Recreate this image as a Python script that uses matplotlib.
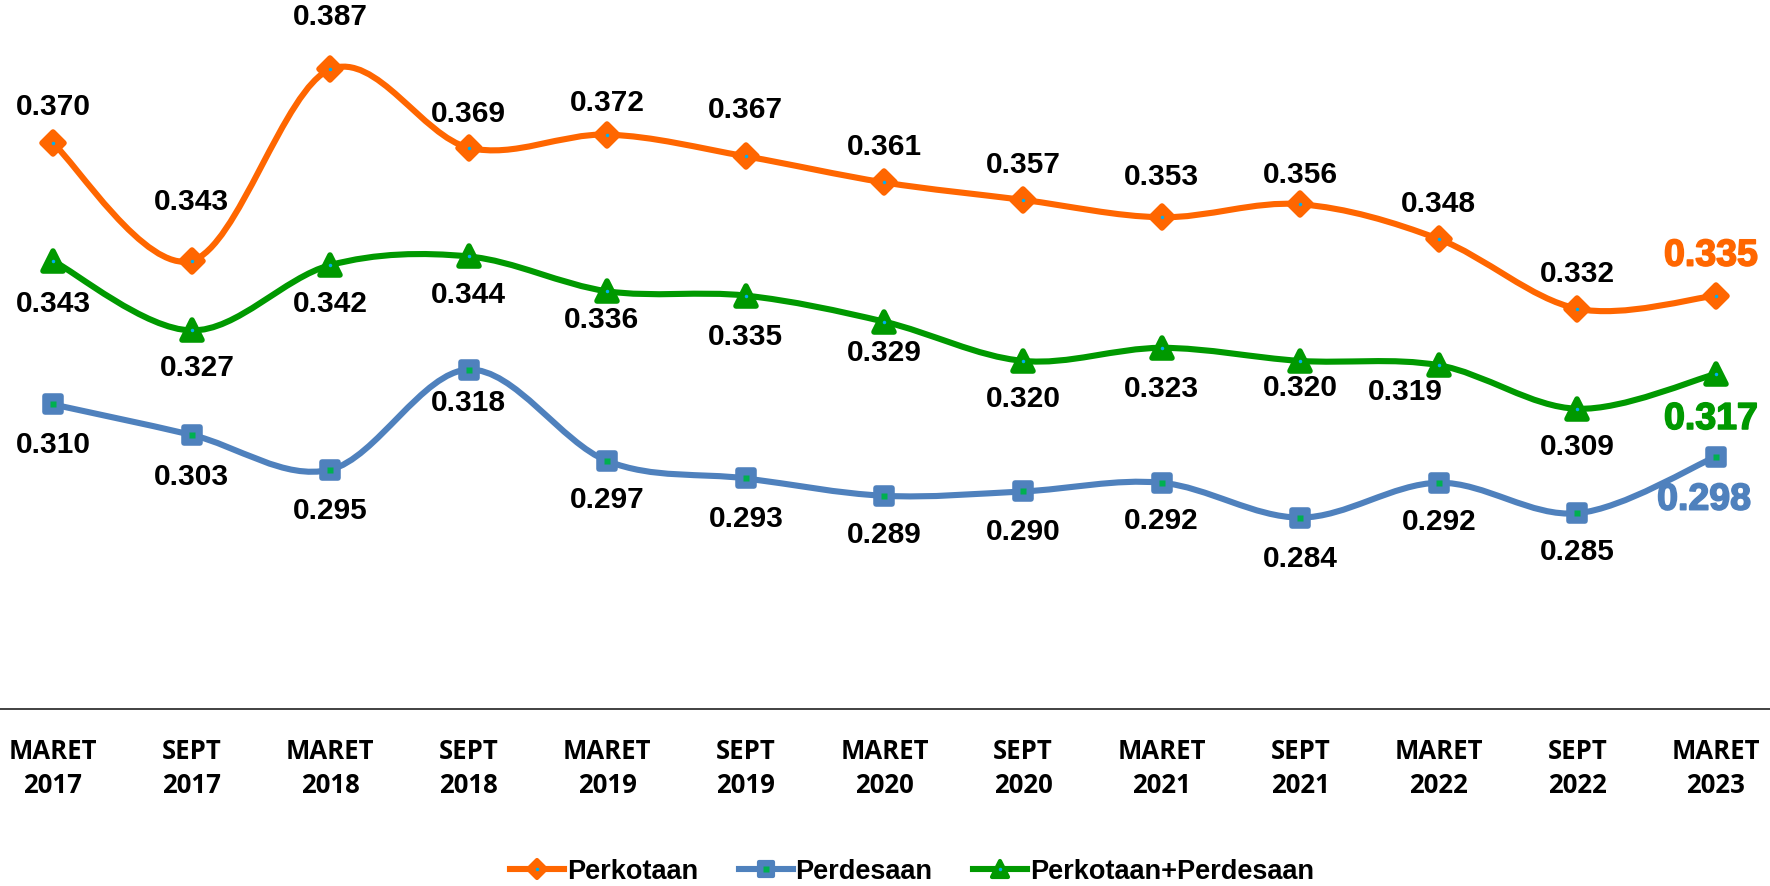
import matplotlib
matplotlib.use("Agg")
import matplotlib.pyplot as plt
from matplotlib.path import Path
from matplotlib.patches import PathPatch
from matplotlib.lines import Line2D
from matplotlib.markers import MarkerStyle
from matplotlib.legend_handler import HandlerTuple
import matplotlib.patheffects as pe
import matplotlib.transforms as mtransforms

# ── data ────────────────────────────────────────────────────────────────
periods = ["MARET\n2017", "SEPT\n2017", "MARET\n2018", "SEPT\n2018",
           "MARET\n2019", "SEPT\n2019", "MARET\n2020", "SEPT\n2020",
           "MARET\n2021", "SEPT\n2021", "MARET\n2022", "SEPT\n2022",
           "MARET\n2023"]
perkotaan = [0.370, 0.343, 0.387, 0.369, 0.372, 0.367, 0.361, 0.357,
             0.353, 0.356, 0.348, 0.332, 0.335]
perdesaan = [0.310, 0.303, 0.295, 0.318, 0.297, 0.293, 0.289, 0.290,
             0.292, 0.284, 0.292, 0.285, 0.298]
gabungan = [0.343, 0.327, 0.342, 0.344, 0.336, 0.335, 0.329, 0.320,
            0.323, 0.320, 0.319, 0.309, 0.317]

# ── style ───────────────────────────────────────────────────────────────
C_ORANGE = "#FF6600"
C_BLUE = "#4F81BD"
C_GREEN = "#009900"
C_DOT_CYAN = "#00B0F0"
C_DOT_GREEN = "#00B050"
LABEL_FONT = "Liberation Sans"
LW = 4.4

# label offsets in pixels (dx, dy; dy positive = downward)
OFF_ORANGE = [(0, -37), (0, -60), (0, -53), (0, -35), (0, -33), (0, -47), (0, -36),
              (0, -36), (0, -41), (0, -30), (0, -36), (0, -36), (-5, -40)]
OFF_GREEN = [(0, 42), (6, 37), (0, 38), (0, 38), (-6, 28), (0, 40), (0, 30),
             (0, 37), (0, 40), (0, 26), (-33, 26), (0, 37), (-5, 45)]
OFF_BLUE = [(0, 40), (0, 41), (0, 40), (0, 32), (0, 38), (0, 40), (0, 38),
            (0, 40), (0, 37), (0, 40), (0, 38), (0, 38), (-12, 43)]


def smooth_path(xs, ys):
    """Excel 風スムージング（Catmull-Rom → Bezier）"""
    pts = list(zip(xs, ys))
    n = len(pts)
    verts = [pts[0]]
    codes = [Path.MOVETO]
    for i in range(n - 1):
        p0 = pts[i - 1] if i > 0 else pts[i]
        p1 = pts[i]
        p2 = pts[i + 1]
        p3 = pts[i + 2] if i + 2 < n else pts[i + 1]
        c1 = (p1[0] + (p2[0] - p0[0]) / 6, p1[1] + (p2[1] - p0[1]) / 6)
        c2 = (p2[0] - (p3[0] - p1[0]) / 6, p2[1] - (p3[1] - p1[1]) / 6)
        verts += [c1, c2, p2]
        codes += [Path.CURVE4] * 3
    return Path(verts, codes)


fig = plt.figure(figsize=(17.7, 8.87), dpi=100)
ax = fig.add_axes([0, 0.1995, 1, 0.785])
ax.set_xlim(-0.382, 12.39)
ax.set_ylim(0.24, 0.40)

xs = list(range(len(periods)))

series = [
    (perkotaan, C_ORANGE, "D", 11, C_DOT_CYAN, 2.5, OFF_ORANGE, "Perkotaan"),
    (perdesaan, C_BLUE, "s", 12, C_DOT_GREEN, 5, OFF_BLUE, "Perdesaan"),
    (gabungan, C_GREEN, "^", 14, C_DOT_CYAN, 2.5, OFF_GREEN, "Perkotaan+Perdesaan"),
]

handles = []
for vals, color, mk, ms, dot_c, dot_ms, offs, name in series:
    ax.add_patch(PathPatch(smooth_path(xs, vals), facecolor="none",
                           edgecolor=color, lw=LW, capstyle="round",
                           joinstyle="round", zorder=3))
    mstyle = MarkerStyle(mk, joinstyle="round")
    ax.plot(xs, vals, ls="none", marker=mstyle, ms=ms, mfc=color, mec=color,
            mew=4, zorder=4)
    ax.plot(xs, vals, ls="none", marker="s" if mk == "s" else "o",
            ms=dot_ms, mfc=dot_c, mec="none", zorder=5)

    for i, (x, v) in enumerate(zip(xs, vals)):
        dx, dy = offs[i]
        tr = mtransforms.offset_copy(ax.transData, fig=fig, x=dx, y=-dy,
                                     units="dots")
        last = i == len(vals) - 1
        if last:
            ax.text(x, v, f"{v:.3f}", transform=tr, ha="center", va="center",
                    fontsize=27, fontweight="bold", family=LABEL_FONT,
                    color=color, zorder=6,
                    path_effects=[pe.withStroke(linewidth=1.2, foreground=color)])
        else:
            ax.text(x, v, f"{v:.3f}", transform=tr, ha="center", va="center",
                    fontsize=21.5, fontweight="bold", family=LABEL_FONT,
                    color="black", zorder=6)

    h_line = Line2D([], [], color=color, lw=LW, marker=mstyle, ms=ms * 0.85,
                    mfc=color, mec=color, mew=3)
    h_dot = Line2D([], [], ls="none", marker="s" if mk == "s" else "o",
                   ms=dot_ms, mfc=dot_c, mec="none")
    handles.append(((h_line, h_dot), name))

# 軸
for s in ["top", "left", "right"]:
    ax.spines[s].set_visible(False)
ax.spines["bottom"].set_color("#333333")
ax.spines["bottom"].set_linewidth(1.3)
ax.set_yticks([])
ax.set_xticks(xs)
ax.set_xticklabels(periods, fontsize=18.5, fontweight="bold", family="Open Sans",
                   linespacing=1.35)
ax.tick_params(axis="x", length=0, pad=20)
ax.patch.set_visible(False)

fig.legend([h for h, _ in handles], [n for _, n in handles],
           handler_map={tuple: HandlerTuple(ndivide=1)},
           loc="center", bbox_to_anchor=(912 / 1770, 1 - 872 / 887),
           ncol=3, frameon=False, handlelength=2.0, handletextpad=0.1,
           columnspacing=1.5, prop={"family": LABEL_FONT, "weight": "bold",
                                    "size": 19.5})

fig.savefig("out.png", dpi=100)
